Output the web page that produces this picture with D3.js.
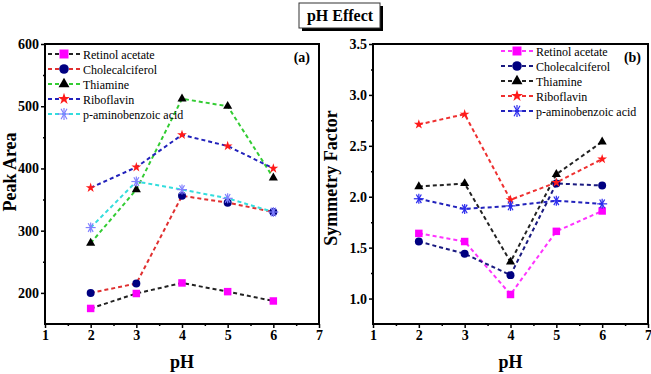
<!DOCTYPE html>
<html>
<head>
<meta charset="utf-8">
<script src="https://cdn.jsdelivr.net/npm/d3@7"></script>
<style>
	body { margin: 0; background: #fff; }
	svg text { font-family: "Liberation Serif", "Times New Roman", serif !important; }
	.tick text { font-weight: bold; font-size: 14px; fill: #000; }
	.axis-label { font-weight: bold; font-size: 18px; }
	.legend text { font-size: 12px; }
</style>
</head>
<body>
<div class="chart"></div>
<script>
	var PH = [2, 3, 4, 5, 6];
	var NAMES = ['Retinol acetate', 'Cholecalciferol', 'Thiamine', 'Riboflavin', 'p-aminobenzoic acid'];

	// panel (a) peak area
	var area_retinol = [175, 199, 216, 202, 187];
	var area_chole = [200, 215, 356, 345, 330];
	var area_thiamine = [280, 366, 512, 500, 385];
	var area_ribo = [369, 402, 454, 436, 400];
	var area_paba = [305, 379, 366, 352, 330];

	// panel (b) symmetry factor
	var sym_retinol = [1.64, 1.56, 1.04, 1.66, 1.86];
	var sym_chole = [1.56, 1.44, 1.23, 2.13, 2.11];
	var sym_thiamine = [2.10, 2.13, 1.36, 2.22, 2.54];
	var sym_ribo = [2.71, 2.81, 1.97, 2.14, 2.37];
	var sym_paba = [1.98, 1.88, 1.91, 1.96, 1.93];

	var X_TICKS = [1, 2, 3, 4, 5, 6, 7];
	var AREA_TICKS = [200, 300, 400, 500, 600];
	var SYM_TICKS = [1.0, 1.5, 2.0, 2.5, 3.0, 3.5];

	var svg = d3.select(".chart").append("svg")
		.attr("width", 651)
		.attr("height", 374);

	// title box
	var title = svg.append("g");
	title.append("rect").attr("x", 302).attr("y", 6).attr("width", 81).attr("height", 25).attr("fill", "#000");
	title.append("rect").attr("x", 299).attr("y", 3).attr("width", 81).attr("height", 25)
		.attr("fill", "#fff").attr("stroke", "#333").attr("stroke-width", 1);
	title.append("text").attr("x", 340).attr("y", 21).attr("text-anchor", "middle")
		.style("font-weight", "bold").style("font-size", "16px").text("pH Effect");

	var AREAS = { square : 56, circle : 50, triangle : 36, star : 30 };

	function marker(g, type, color, scale) {
		if ( type === 'asterisk' ) {
			var r = 5 * scale;
			[0, 60, 120].forEach(function ( a ) {
				var rad = a * Math.PI / 180;
				g.append("line")
					.attr("x1", -r * Math.cos(rad)).attr("y1", -r * Math.sin(rad))
					.attr("x2", r * Math.cos(rad)).attr("y2", r * Math.sin(rad))
					.attr("stroke", color).attr("stroke-width", 1.2);
			});
			g.append("line").attr("x1", 0).attr("y1", -r).attr("x2", 0).attr("y2", r)
				.attr("stroke", color).attr("stroke-width", 1.2);
			return;
		}
		var sym = { square : d3.symbolSquare, circle : d3.symbolCircle, triangle : d3.symbolTriangle, star : d3.symbolStar }[type];
		g.append("path").attr("d", d3.symbol().type(sym).size(AREAS[type] * scale * scale)()).attr("fill", color);
	}

	function tidy( s ) {
		s.select(".domain").remove();
		s.selectAll("line").attr("stroke-width", 1.5);
	}

	function panel(opts) {
		var g = svg.append("g").attr("transform", "translate(" + opts.left + "," + opts.top + ")");
		var w = opts.width, h = opts.height;

		var x = d3.scaleLinear().domain([1, 7]).range([0, w]);
		var y = d3.scaleLinear().domain(opts.yDomain).range([h, 0]);

		// minor ticks
		g.append("g").attr("transform", "translate(0," + h + ")")
			.call(d3.axisBottom(x).tickValues(d3.range(1.5, 7, 1)).tickSize(2).tickFormat(""))
			.call(tidy);
		g.append("g")
			.call(d3.axisLeft(y).tickValues(opts.minor).tickSize(2).tickFormat(""))
			.call(tidy);

		g.append("g").attr("transform", "translate(0," + h + ")")
			.call(d3.axisBottom(x).tickValues(X_TICKS).tickSize(4).tickPadding(2).tickFormat(d3.format("d")))
			.call(tidy);
		g.append("g")
			.call(d3.axisLeft(y).tickValues(opts.ticks).tickSize(4).tickPadding(2).tickFormat(opts.fmt))
			.call(tidy);

		// frame
		g.append("rect").attr("width", w).attr("height", h)
			.attr("fill", "none").attr("stroke", "#000").attr("stroke-width", 2);

		var line = d3.line()
			.x(function ( d, i ) { return x(PH[i]); })
			.y(function ( d ) { return y(d); });

		opts.series.forEach(function ( s ) {
			g.append("path").datum(s.values)
				.attr("d", line)
				.attr("fill", "none")
				.attr("stroke", s.line)
				.attr("stroke-width", 2)
				.attr("stroke-dasharray", "4,3");
		});
		opts.series.forEach(function ( s ) {
			s.values.forEach(function ( v, i ) {
				var m = g.append("g").attr("transform", "translate(" + x(PH[i]) + "," + y(v) + ")");
				marker(m, s.shape, s.fill, 1);
			});
		});

		// legend
		var lg = g.append("g").attr("class", "legend")
			.attr("transform", "translate(" + opts.legendX + "," + opts.legendY + ")");
		opts.series.forEach(function ( s, i ) {
			var row = lg.append("g").attr("transform", "translate(0," + (i * 15) + ")");
			row.append("line").attr("x1", 0).attr("x2", 32).attr("y1", 0).attr("y2", 0)
				.attr("stroke", s.line).attr("stroke-width", 2).attr("stroke-dasharray", "4,3");
			var m = row.append("g").attr("transform", "translate(16,0)");
			marker(m, s.shape, s.fill, 1.2);
			row.append("text").attr("x", 35).attr("y", 4.5).text(NAMES[i]);
		});

		g.append("text").attr("x", opts.tagX).attr("y", 18).attr("text-anchor", "end")
			.style("font-weight", "bold").style("font-size", "14px").text(opts.tag);

		g.append("text").attr("class", "axis-label").attr("text-anchor", "middle")
			.attr("transform", "translate(" + (w / 2) + "," + (h + 44) + ")")
			.text("pH");
		g.append("text").attr("class", "axis-label").attr("text-anchor", "middle")
			.attr("transform", "translate(" + opts.yLabelX + "," + opts.yLabelY + ")rotate(-90)")
			.text(opts.yLabel);
	}

	panel({
		left : 45, top : 44, width : 274, height : 280,
		yDomain : [150, 600],
		ticks : AREA_TICKS,
		minor : [250, 350, 450, 550],
		fmt : d3.format("d"),
		yLabel : "Peak Area", yLabelX : -29, yLabelY : 128,
		legendX : 3, legendY : 10,
		tag : "(a)", tagX : 265,
		series : [
			{ values : area_retinol, line : "#222", fill : "#ff00ff", shape : "square" },
			{ values : area_chole, line : "#e03030", fill : "#000080", shape : "circle" },
			{ values : area_thiamine, line : "#33cc33", fill : "#000", shape : "triangle" },
			{ values : area_ribo, line : "#2222bb", fill : "#ff1a1a", shape : "star" },
			{ values : area_paba, line : "#33dddd", fill : "#8080ff", shape : "asterisk" }
		]
	});

	panel({
		left : 373, top : 44, width : 275, height : 280,
		yDomain : [0.75, 3.5],
		ticks : SYM_TICKS,
		minor : [1.25, 1.75, 2.25, 2.75, 3.25],
		fmt : d3.format(".1f"),
		yLabel : "Symmetry Factor", yLabelX : -36, yLabelY : 134,
		legendX : 128, legendY : 7,
		tag : "(b)", tagX : 268,
		series : [
			{ values : sym_retinol, line : "#ff33ff", fill : "#ff00ff", shape : "square" },
			{ values : sym_chole, line : "#1a1a80", fill : "#000080", shape : "circle" },
			{ values : sym_thiamine, line : "#222", fill : "#000", shape : "triangle" },
			{ values : sym_ribo, line : "#ee3030", fill : "#ff1a1a", shape : "star" },
			{ values : sym_paba, line : "#2222bb", fill : "#2a2aee", shape : "asterisk" }
		]
	});
</script>
</body>
</html>
